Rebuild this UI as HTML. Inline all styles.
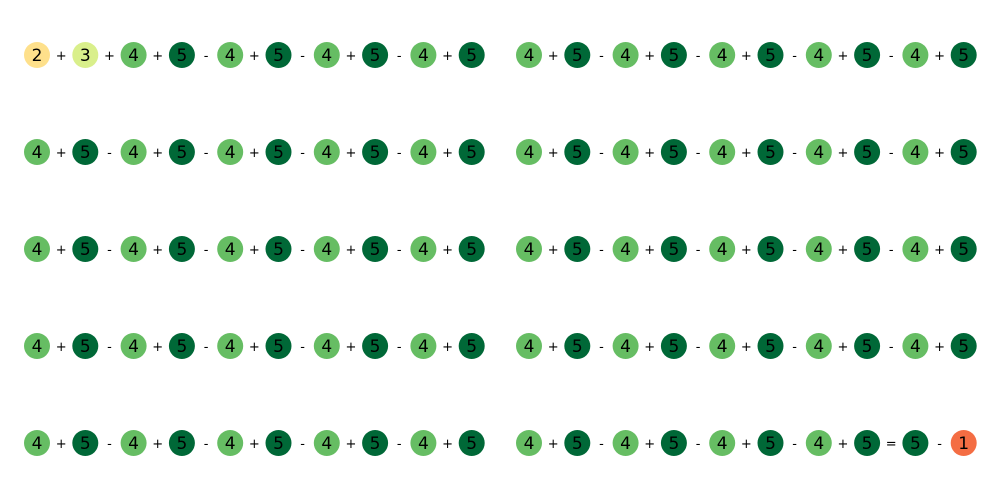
<!DOCTYPE html>
<html><head><meta charset="utf-8">
<style>body{margin:0;background:#fff}svg{display:block}</style>
</head><body>
<svg id="chart" width="1000" height="500" xmlns="http://www.w3.org/2000/svg"></svg>
<script>
const leftValues = [
 [2,3,4,5,4,5,4,5,4,5],
 [4,5,4,5,4,5,4,5,4,5],
 [4,5,4,5,4,5,4,5,4,5],
 [4,5,4,5,4,5,4,5,4,5],
 [4,5,4,5,4,5,4,5,4,5]
];
const leftOps = [
 ['+','+','+','-','+','-','+','-','+'],
 ['+','-','+','-','+','-','+','-','+'],
 ['+','-','+','-','+','-','+','-','+'],
 ['+','-','+','-','+','-','+','-','+'],
 ['+','-','+','-','+','-','+','-','+']
];
const rightValues = [
 [4,5,4,5,4,5,4,5,4,5],
 [4,5,4,5,4,5,4,5,4,5],
 [4,5,4,5,4,5,4,5,4,5],
 [4,5,4,5,4,5,4,5,4,5],
 [4,5,4,5,4,5,4,5,5,1]
];
const rightOps = [
 ['+','-','+','-','+','-','+','-','+'],
 ['+','-','+','-','+','-','+','-','+'],
 ['+','-','+','-','+','-','+','-','+'],
 ['+','-','+','-','+','-','+','-','+'],
 ['+','-','+','-','+','-','+','=','-']
];
const colors = {1:'#f46d43',2:'#fee08b',3:'#d9ef8b',4:'#66bd63',5:'#006837'};
const svg = document.getElementById('chart');
const NS = 'http://www.w3.org/2000/svg';
function xPos(panel, i){ return (panel===0?37:529) + i*48.3; }
function yPos(r){ return 55 + r*97; }
function draw(panel, vals, ops){
  vals.forEach((row, r) => {
    row.forEach((v, i) => {
      const c = document.createElementNS(NS,'circle');
      c.setAttribute('cx', xPos(panel,i)); c.setAttribute('cy', yPos(r)); c.setAttribute('r', 13);
      c.setAttribute('fill', colors[v]);
      
      
      svg.appendChild(c);
      const t = document.createElementNS(NS,'text');
      t.setAttribute('x', xPos(panel,i)); t.setAttribute('y', yPos(r)+6);
      t.setAttribute('text-anchor','middle');
      t.setAttribute('font-family','DejaVu Sans, Liberation Sans, sans-serif');
      t.setAttribute('font-size','17'); t.setAttribute('fill','#000');
      t.textContent = v;
      
      
      svg.appendChild(t);
    });
    ops[r].forEach((o, i) => {
      const t = document.createElementNS(NS,'text');
      t.setAttribute('x', (xPos(panel,i)+xPos(panel,i+1))/2); t.setAttribute('y', yPos(r)+5);
      t.setAttribute('text-anchor','middle');
      t.setAttribute('font-family','DejaVu Sans, Liberation Sans, sans-serif');
      t.setAttribute('font-size','13'); t.setAttribute('fill','#000');
      t.textContent = o;
      
      
      svg.appendChild(t);
    });
  });
}
draw(0, leftValues, leftOps);
draw(1, rightValues, rightOps);
</script>
</body></html>
